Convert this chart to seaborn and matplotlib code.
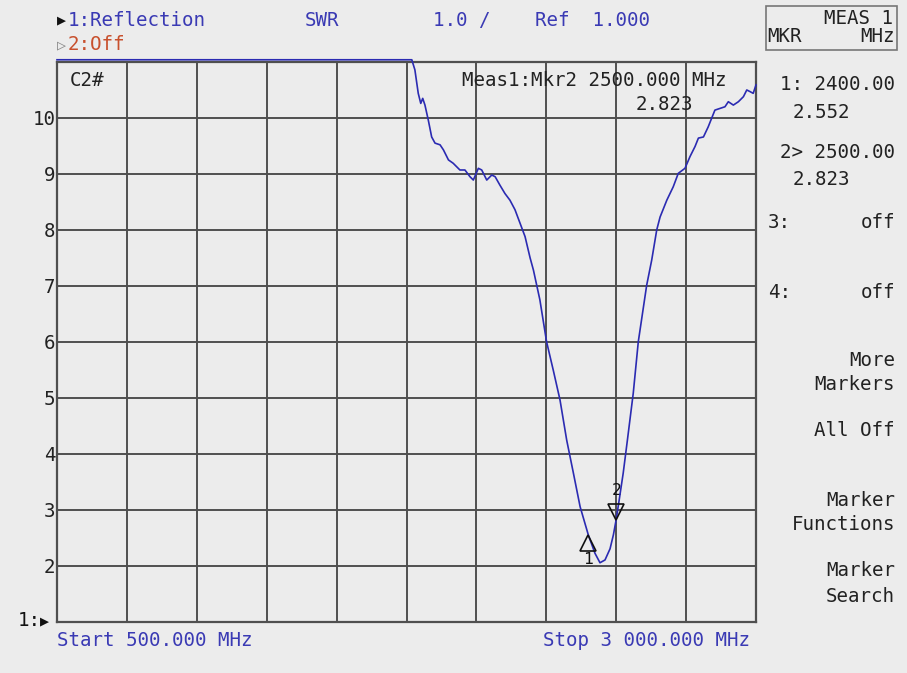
import matplotlib
matplotlib.use("Agg")
import matplotlib.pyplot as plt
import matplotlib.transforms as mtransforms
from matplotlib.patches import Rectangle
import seaborn as sns
import pandas as pd

# ---- data ----
freq_mhz = [500, 1769, 1780, 1792, 1801, 1808, 1816, 1828, 1840, 1852, 1870, 1882,
            1900, 1917, 1941, 1959, 1977, 1989, 2007, 2019, 2037, 2055, 2067, 2084,
            2102, 2120, 2138, 2156, 2174, 2192, 2204, 2227, 2251, 2275, 2299, 2323,
            2347, 2371, 2400, 2424, 2442, 2460, 2478, 2490, 2500, 2510, 2525, 2540,
            2561, 2579, 2609, 2627, 2645, 2657, 2681, 2704, 2722, 2746, 2764, 2782,
            2794, 2812, 2829, 2853, 2871, 2889, 2901, 2919, 2937, 2955, 2967, 2979,
            2990, 3000]
swr = [11.04, 11.04, 10.86, 10.44, 10.26, 10.35, 10.23, 9.96, 9.66, 9.55, 9.52, 9.43,
       9.25, 9.19, 9.07, 9.07, 8.95, 8.89, 9.10, 9.07, 8.89, 8.98, 8.95, 8.80,
       8.65, 8.53, 8.36, 8.12, 7.88, 7.50, 7.28, 6.75, 6.00, 5.49, 4.96, 4.24,
       3.65, 3.05, 2.552, 2.22, 2.05, 2.10, 2.30, 2.55, 2.823, 3.15, 3.65, 4.24,
       5.08, 6.00, 7.01, 7.46, 8.00, 8.23, 8.53, 8.77, 9.01, 9.10, 9.31, 9.49,
       9.64, 9.66, 9.84, 10.14, 10.17, 10.20, 10.29, 10.23, 10.29, 10.38, 10.50, 10.47,
       10.44, 10.59]
marker_freq = [2400, 2500]
marker_swr = [2.552, 2.823]
y_tick_labels = ["", "2", "3", "4", "5", "6", "7", "8", "9", "10", ""]
x_start, x_stop = 500, 3000
y_min, y_max = 1, 11

BG = "#ececec"
BLUE_TXT = "#3a3ab4"
TRACE = "#2b2bb2"
GRID = "#4f4f4f"
ORANGE = "#c8502d"
MONO = "DejaVu Sans Mono"
FS = 13.8

W, H = 907, 673
fig = plt.figure(figsize=(W / 100, H / 100), dpi=100, facecolor=BG)
ax = fig.add_axes([57 / W, (H - 621.5) / H, (756 - 57) / W, (621.5 - 62) / H])
ax.set_facecolor(BG)

df = pd.DataFrame({"freq": freq_mhz, "swr": swr})
sns.lineplot(data=df, x="freq", y="swr", ax=ax, color=TRACE, linewidth=1.2,
             clip_on=False, zorder=5)

ax.set_xlim(x_start, x_stop)
ax.set_ylim(y_min, y_max)
ax.set_xticks(range(x_start, x_stop + 1, 250))
ax.set_xticklabels([])
ax.set_yticks(range(y_min, y_max + 1))
ax.set_yticklabels(y_tick_labels, fontfamily=MONO, fontsize=FS, color="#222222")
ax.tick_params(axis="both", length=0, pad=1)
ax.grid(True, color=GRID, linewidth=1.4)
ax.set_axisbelow(True)
for s in ax.spines.values():
    s.set_color(GRID)
    s.set_linewidth(1.6)
ax.set_xlabel("")
ax.set_ylabel("")

# markers
ms = 11.5
t_up = mtransforms.offset_copy(ax.transData, fig=fig, x=0, y=-ms / 2, units="points")
t_dn = mtransforms.offset_copy(ax.transData, fig=fig, x=0, y=ms / 2, units="points")
ax.plot([marker_freq[0]], [marker_swr[0]], marker="^", markersize=ms, mfc="none",
        mec="#111111", mew=1.2, transform=t_up, clip_on=False, zorder=6)
ax.plot([marker_freq[1]], [marker_swr[1]], marker="v", markersize=ms, mfc="none",
        mec="#111111", mew=1.2, transform=t_dn, clip_on=False, zorder=6)
ax.annotate("1", (marker_freq[0], marker_swr[0]), xytext=(0, -18), textcoords="offset points",
            ha="center", va="center", fontfamily=MONO, fontsize=FS - 2, color="#111111")
ax.annotate("2", (marker_freq[1], marker_swr[1]), xytext=(0, 21), textcoords="offset points",
            ha="center", va="center", fontfamily=MONO, fontsize=FS - 2, color="#111111")


def T(x, y, s, color="#222222", ha="left", size=FS, **kw):
    fig.text(x / W, 1 - y / H, s, color=color, ha=ha, va="center",
             fontfamily=MONO, fontsize=size, **kw)


# header
T(57, 20, "\u25b6", color="#111111", size=FS - 3)
T(68, 20, "1:Reflection", color=BLUE_TXT)
T(305, 20, "SWR", color=BLUE_TXT)
T(433, 20, "1.0 /", color=BLUE_TXT)
T(535, 20, "Ref  1.000", color=BLUE_TXT)
T(57, 45, "\u25b7", color="#888888", size=FS - 3)
T(68, 45, "2:Off", color=ORANGE)

# inside plot
T(70, 80, "C2#")
T(727, 80, "Meas1:Mkr2 2500.000 MHz", ha="right")
T(693, 104, "2.823", ha="right")

# bottom
T(57, 640, "Start 500.000 MHz", color=BLUE_TXT)
T(750, 640, "Stop 3 000.000 MHz", color=BLUE_TXT, ha="right")
T(18, 621, "1:", color="#111111")
T(40, 621, "\u25b6", color="#111111", size=FS - 3)

# right panel
fig.patches.append(Rectangle((766 / W, 1 - 50 / H), (897 - 766) / W, 44 / H,
                             transform=fig.transFigure, fill=False,
                             edgecolor="#777777", linewidth=1.2))
T(893, 18, "MEAS 1", ha="right")
T(767, 37, "MKR")
T(895, 37, "MHz", ha="right")
T(895, 85, "1: 2400.00", ha="right")
T(793, 112, "2.552")
T(895, 152, "2> 2500.00", ha="right")
T(793, 180, "2.823")
T(768, 223, "3:")
T(895, 223, "off", ha="right")
T(768, 293, "4:")
T(895, 293, "off", ha="right")
T(895, 361, "More", ha="right")
T(895, 385, "Markers", ha="right")
T(895, 431, "All Off", ha="right")
T(895, 501, "Marker", ha="right")
T(895, 525, "Functions", ha="right")
T(895, 571, "Marker", ha="right")
T(895, 596, "Search", ha="right")

fig.savefig("out.png", dpi=100, facecolor=BG)
